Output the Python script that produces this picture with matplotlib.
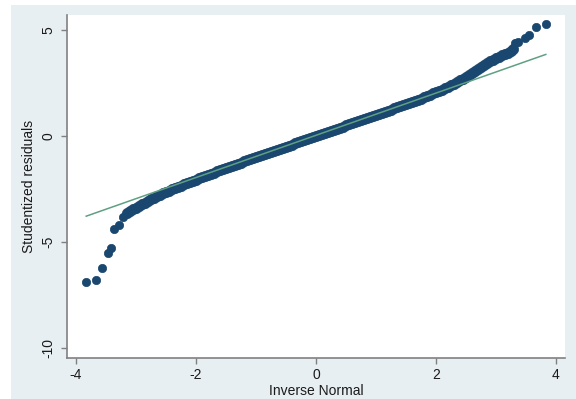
import matplotlib
matplotlib.use("Agg")
import matplotlib.pyplot as plt
from matplotlib.patches import Rectangle

plt.rcParams['font.family'] = ['Liberation Sans', 'DejaVu Sans']

# --- data (Inverse Normal quantile, studentized residual)
tail_low_x = [-3.83, -3.66, -3.56, -3.47, -3.42, -3.36, -3.29, -3.22]
tail_low_y = [-6.87, -6.79, -6.21, -5.53, -5.30, -4.39, -4.20, -3.80]

band_x = [-3.15, -3.10, -3.05, -3.00, -2.95, -2.90, -2.85, -2.80, -2.75, -2.70,
          -2.65, -2.60, -2.55, -2.50, -2.45, -2.40, -2.35, -2.30, -2.25, -2.20,
          -2.15, -2.10, -2.05, -2.00, -1.95, -1.90, -1.85, -1.80, -1.75, -1.70,
          -1.65, -1.60, -1.55, -1.50, -1.45, -1.40, -1.35, -1.30, -1.25, -1.20,
          -1.15, -1.10, -1.05, -1.00, -0.95, -0.90, -0.85, -0.80, -0.75, -0.70,
          -0.65, -0.60, -0.55, -0.50, -0.45, -0.40, -0.35, -0.30, -0.25, -0.20,
          -0.15, -0.10, -0.05, 0.00, 0.05, 0.10, 0.15, 0.20, 0.25, 0.30,
          0.35, 0.40, 0.45, 0.50, 0.55, 0.60, 0.65, 0.70, 0.75, 0.80,
          0.85, 0.90, 0.95, 1.00, 1.05, 1.10, 1.15, 1.20, 1.25, 1.30,
          1.35, 1.40, 1.45, 1.50, 1.55, 1.60, 1.65, 1.70, 1.75, 1.80,
          1.85, 1.90, 1.95, 2.00, 2.05, 2.10, 2.15, 2.20, 2.25, 2.30,
          2.35, 2.40, 2.45, 2.50, 2.55, 2.60, 2.65, 2.70, 2.75, 2.80,
          2.85, 2.90, 2.95, 3.00, 3.05, 3.10, 3.15, 3.20, 3.25, 3.29]
band_y = [-3.62, -3.53, -3.45, -3.38, -3.30, -3.22, -3.14, -3.06, -2.99, -2.92,
          -2.85, -2.78, -2.71, -2.65, -2.58, -2.52, -2.46, -2.40, -2.34, -2.28,
          -2.22, -2.16, -2.10, -2.05, -1.99, -1.94, -1.88, -1.83, -1.77, -1.72,
          -1.67, -1.62, -1.56, -1.51, -1.46, -1.41, -1.35, -1.30, -1.25, -1.20,
          -1.15, -1.10, -1.05, -1.00, -0.95, -0.90, -0.85, -0.80, -0.75, -0.70,
          -0.65, -0.60, -0.55, -0.50, -0.45, -0.40, -0.35, -0.30, -0.25, -0.20,
          -0.15, -0.10, -0.05, 0.00, 0.05, 0.10, 0.15, 0.20, 0.25, 0.30,
          0.35, 0.40, 0.45, 0.50, 0.55, 0.60, 0.65, 0.70, 0.75, 0.80,
          0.85, 0.90, 0.95, 1.00, 1.05, 1.10, 1.15, 1.20, 1.25, 1.30,
          1.35, 1.40, 1.45, 1.50, 1.55, 1.61, 1.66, 1.72, 1.77, 1.83,
          1.89, 1.95, 2.01, 2.07, 2.13, 2.19, 2.26, 2.33, 2.40, 2.47,
          2.55, 2.63, 2.71, 2.80, 2.89, 2.98, 3.08, 3.18, 3.27, 3.36,
          3.44, 3.52, 3.60, 3.67, 3.74, 3.80, 3.87, 3.93, 4.01, 4.09]

tail_high_x = [3.32, 3.36, 3.48, 3.55, 3.66, 3.83]
tail_high_y = [4.37, 4.45, 4.61, 4.76, 5.13, 5.27]

line_x = [-3.83, 3.83]
line_y = [-3.78, 3.85]

xticks = [-4, -2, 0, 2, 4]
yticks = [-10, -5, 0, 5]
xlabel = "Inverse Normal"
ylabel = "Studentized residuals"

W, H = 576, 399
fig = plt.figure(figsize=(W / 100, H / 100), dpi=100)
fig.patch.set_facecolor('white')
fig.patches.append(Rectangle((11 / W, 0), 1 - 11 / W, 1 - 5 / H,
                             transform=fig.transFigure, facecolor='#E8EFF2',
                             edgecolor='none', zorder=-10))

ax = fig.add_axes([67 / W, (H - 358) / H, (565 - 67) / W, (358 - 15) / H])
ax.set_facecolor('white')

mcol = '#1a476f'
for xs, ys, ms in [(tail_low_x, tail_low_y, 6.0), (band_x, band_y, 7.4),
                   (tail_high_x, tail_high_y, 6.0)]:
    ax.plot(xs, ys, linestyle='none', marker='o', markersize=ms,
            markerfacecolor=mcol, markeredgecolor=mcol, markeredgewidth=0.5, zorder=2)

ax.plot(line_x, line_y, color='#5f9f82', linewidth=1.1, zorder=3)

ax.set_xlim(-4.15, 4.15)
ax.set_ylim(-10.47, 5.71)
ax.set_xticks(xticks)
ax.set_yticks(yticks)
ax.set_xticklabels([str(v) for v in xticks])
ax.set_yticklabels([str(v) for v in yticks], rotation=90, va='center')

for s in ['top', 'right']:
    ax.spines[s].set_visible(False)
for s in ['left', 'bottom']:
    ax.spines[s].set_color('#808080')
    ax.spines[s].set_linewidth(1.2)

ax.tick_params(axis='both', direction='out', length=4.5, width=1.0, color='#808080',
               labelsize=10, labelcolor='#1a1a1a')
ax.tick_params(axis='y', pad=4)
ax.tick_params(axis='x', pad=3)

ax.set_xlabel(xlabel, fontsize=10, color='#1a1a1a', labelpad=1)
ax.set_ylabel(ylabel, fontsize=10, color='#1a1a1a', labelpad=4)

fig.savefig('out.png', dpi=100, facecolor=fig.get_facecolor())
